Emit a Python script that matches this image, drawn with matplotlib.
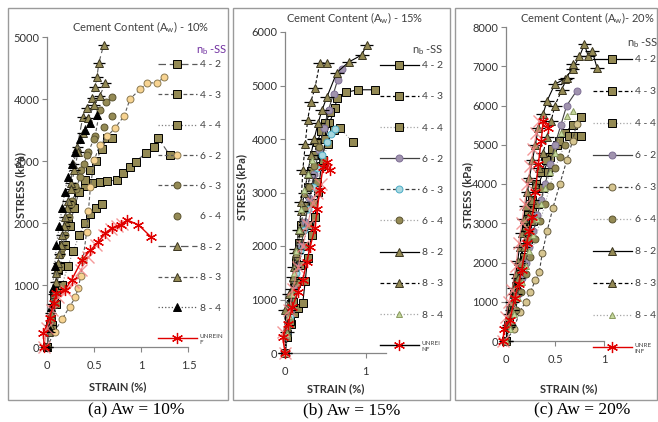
import matplotlib
matplotlib.use('Agg')
import matplotlib.pyplot as plt
from matplotlib.lines import Line2D
from matplotlib.patches import Rectangle

plt.rcParams['font.family'] = ['Lato', 'DejaVu Sans']

# ===== DATA (strain %, stress kPa) =====
series_labels = ['4 - 2', '4 - 3', '4 - 4', '6 - 2', '6 - 3', '6 - 4', '8 - 2', '8 - 3', '8 - 4']
unreinf_labels = ['UNREIN\nF', 'UNREI\nNF', 'UNRE\nINF']
panel_titles = ['Cement Content (A$_{\\mathregular{w}}$) - 10%',
                'Cement Content (A$_{\\mathregular{w}}$) - 15%',
                'Cement Content (A$_{\\mathregular{w}}$)- 20%']
captions = ['(a) Aw = 10%', '(b) Aw = 15%', '(c) Aw = 20%']

# --- (a) Aw = 10% ---
a42_x = [0, 0.03, 0.07, 0.12, 0.17, 0.22, 0.27, 0.33, 0.4, 0.48, 0.56, 0.64, 0.74, 0.81, 0.88, 0.94, 1.05, 1.13, 1.18, 1.3]
a42_y = [0, 350, 800, 1250, 1650, 2000, 2300, 2500, 2600, 2640, 2660, 2680, 2690, 2800, 2900, 2990, 3130, 3230, 3370, 3100]
a43_x = [0, 0.04, 0.09, 0.14, 0.19, 0.24, 0.29, 0.34, 0.4, 0.46, 0.52, 0.58, 0.64, 0.69]
a43_y = [0, 450, 900, 1300, 1650, 1950, 2250, 2500, 2700, 2850, 3000, 3200, 3370, 3370]
a44_x = [0, 0.05, 0.1, 0.16, 0.22, 0.28, 0.34, 0.4, 0.46, 0.52, 0.58]
a44_y = [0, 350, 700, 1000, 1300, 1550, 1800, 2000, 2150, 2250, 2300]
a62_x = [0, 0.08, 0.16, 0.24, 0.3, 0.33, 0.36, 0.38, 0.42, 0.44, 0.46, 0.5, 0.56, 0.64, 0.72, 0.82, 0.88, 0.99, 1.06, 1.17, 1.24]
a62_y = [0, 250, 450, 650, 800, 950, 1150, 1400, 1850, 2200, 2580, 3010, 3260, 3400, 3530, 3730, 4000, 4160, 4260, 4260, 4350]
a63_x = [0, 0.03, 0.07, 0.11, 0.15, 0.19, 0.23, 0.27, 0.31, 0.35, 0.39, 0.44, 0.51, 0.56, 0.63, 0.69]
a63_y = [0, 400, 800, 1200, 1500, 1800, 2100, 2350, 2550, 2750, 2950, 3150, 3400, 3820, 3950, 4030]
a64_x = [0, 0.04, 0.08, 0.12, 0.16, 0.2, 0.25, 0.3, 0.36, 0.42, 0.5, 0.6, 0.69]
a64_y = [0, 450, 850, 1250, 1600, 1950, 2300, 2600, 2850, 3100, 3350, 3550, 3730]
a82_x = [0, 0.02, 0.04, 0.07, 0.1, 0.13, 0.16, 0.19, 0.22, 0.25, 0.28, 0.32, 0.38, 0.42, 0.48, 0.51, 0.53, 0.55, 0.6]
a82_y = [0, 250, 550, 850, 1200, 1500, 1800, 2100, 2350, 2650, 2950, 3230, 3710, 3860, 4020, 4190, 4360, 4580, 4870]
a83_x = [0, 0.03, 0.06, 0.09, 0.12, 0.15, 0.18, 0.21, 0.25, 0.29, 0.33, 0.38, 0.44, 0.5, 0.56, 0.62]
a83_y = [0, 350, 700, 1050, 1350, 1650, 1950, 2250, 2550, 2850, 3150, 3450, 3700, 3900, 4050, 4260]
a84_x = [0, 0.02, 0.04, 0.06, 0.08, 0.1, 0.13, 0.16, 0.19, 0.22, 0.26, 0.3, 0.35, 0.4, 0.46, 0.53]
a84_y = [0, 300, 650, 950, 1300, 1650, 1950, 2250, 2500, 2740, 2950, 3150, 3350, 3500, 3620, 3740]
a_un_x = [-0.03, -0.04, 0.03, 0.07, 0.1, 0.19, 0.26, 0.37, 0.46, 0.54, 0.62, 0.69, 0.78, 0.85, 0.97, 1.1]
a_un_y = [0, 225, 470, 710, 870, 920, 1080, 1400, 1560, 1690, 1840, 1920, 1970, 2050, 1970, 1780]
a_un2_x = [-0.03, 0.0, 0.05, 0.12, 0.2, 0.28, 0.36, 0.44, 0.52, 0.6, 0.68, 0.74, 0.8]
a_un2_y = [0, 300, 600, 800, 900, 1050, 1250, 1450, 1650, 1800, 1900, 1950, 1980]

# --- (b) Aw = 15% ---
b42_x = [0, 0.03, 0.07, 0.11, 0.16, 0.22, 0.25, 0.28, 0.33, 0.37, 0.41, 0.45, 0.5, 0.55, 0.62, 0.64, 0.75, 0.9, 1.12]
b42_y = [0, 300, 550, 750, 850, 940, 1350, 1770, 2200, 2540, 3010, 3500, 4000, 4300, 4580, 4770, 4870, 4920, 4920]
b43_x = [0, 0.02, 0.05, 0.08, 0.11, 0.14, 0.17, 0.2, 0.24, 0.28, 0.32, 0.36, 0.4, 0.45, 0.5, 0.56]
b43_y = [0, 350, 700, 1000, 1350, 1700, 2050, 2400, 2750, 3100, 3400, 3700, 3950, 4150, 4300, 4500]
b44_x = [0, 0.03, 0.06, 0.1, 0.14, 0.18, 0.23, 0.28, 0.34, 0.4, 0.47, 0.53, 0.6, 0.68, 0.84]
b44_y = [0, 300, 600, 950, 1300, 1650, 2000, 2400, 2800, 3200, 3600, 3900, 4170, 4200, 3940]
b62_x = [0, 0.03, 0.07, 0.11, 0.15, 0.2, 0.25, 0.3, 0.36, 0.42, 0.48, 0.54, 0.6, 0.65, 0.7]
b62_y = [0, 400, 800, 1200, 1600, 2000, 2450, 2900, 3350, 3800, 4200, 4550, 4850, 5100, 5300]
b63_x = [0, 0.03, 0.06, 0.1, 0.14, 0.18, 0.23, 0.28, 0.34, 0.4, 0.46, 0.52, 0.57, 0.62]
b63_y = [0, 350, 700, 1100, 1500, 1900, 2300, 2700, 3100, 3450, 3700, 3950, 4100, 4180]
b64_x = [0, 0.03, 0.06, 0.1, 0.14, 0.19, 0.24, 0.3, 0.36, 0.42]
b64_y = [0, 450, 900, 1350, 1800, 2250, 2700, 3100, 3500, 3850]
b82_x = [0, 0.02, 0.05, 0.08, 0.11, 0.14, 0.17, 0.2, 0.24, 0.28, 0.32, 0.36, 0.41, 0.46, 0.52, 0.64, 0.79, 0.95, 1.01]
b82_y = [0, 400, 800, 1200, 1600, 1950, 2300, 2650, 3000, 3350, 3700, 4000, 4300, 4550, 4790, 5240, 5440, 5570, 5760]
b83_x = [0, 0.0, 0.05, 0.1, 0.14, 0.19, 0.2, 0.22, 0.25, 0.28, 0.32, 0.37, 0.43, 0.52]
b83_y = [0, 800, 1100, 1420, 1870, 2300, 2830, 3420, 3900, 4360, 4700, 4950, 5420, 5420]
b84_x = [0, 0.02, 0.05, 0.08, 0.11, 0.14, 0.17, 0.2, 0.24, 0.28, 0.33]
b84_y = [0, 350, 700, 1100, 1500, 1900, 2300, 2700, 3050, 3350, 3600]
b_un_x = [0, -0.03, 0.04, 0.09, 0.16, 0.22, 0.27, 0.31, 0.37, 0.4, 0.43, 0.47, 0.52, 0.56]
b_un_y = [0, 300, 550, 860, 1140, 1370, 1700, 1980, 2330, 2700, 3050, 3480, 3570, 3420]
b_un2_x = [0, -0.02, 0.05, 0.1, 0.16, 0.22, 0.28, 0.34, 0.4, 0.45]
b_un2_y = [0, 400, 800, 1200, 1600, 2000, 2400, 2800, 3000, 3150]

# --- (c) Aw = 20% ---
c42_x = [0, 0.03, 0.06, 0.1, 0.14, 0.18, 0.22, 0.27, 0.32, 0.38, 0.45, 0.52, 0.6, 0.68, 0.77]
c42_y = [0, 500, 900, 1400, 1900, 2400, 2900, 3400, 3900, 4300, 4700, 5000, 5300, 5500, 5710]
c43_x = [0, 0.02, 0.05, 0.08, 0.11, 0.14, 0.17, 0.2, 0.23, 0.27, 0.31, 0.36, 0.41, 0.47, 0.54, 0.64, 0.7, 0.77]
c43_y = [0, 400, 800, 1200, 1600, 2000, 2400, 2800, 3200, 3600, 4000, 4300, 4600, 4900, 5100, 5230, 5230, 5230]
c44_x = [0, 0.03, 0.06, 0.1, 0.14, 0.18, 0.23, 0.28, 0.33, 0.38, 0.43]
c44_y = [0, 400, 800, 1250, 1700, 2150, 2600, 3050, 3500, 3900, 4300]
c62_x = [0, 0.04, 0.08, 0.12, 0.16, 0.2, 0.24, 0.28, 0.32, 0.36, 0.4, 0.45, 0.5, 0.56, 0.62, 0.72]
c62_y = [0, 400, 800, 1200, 1600, 2000, 2400, 2800, 3200, 3600, 4000, 4500, 5000, 5500, 6000, 6370]
c63_x = [0, 0.08, 0.14, 0.2, 0.25, 0.3, 0.34, 0.37, 0.42, 0.48, 0.55, 0.62, 0.68, 0.72]
c63_y = [0, 300, 740, 1000, 1250, 1550, 1750, 2230, 2800, 3400, 4000, 4600, 5100, 5530]
c64_x = [0, 0.05, 0.1, 0.15, 0.2, 0.25, 0.3, 0.35, 0.4, 0.45, 0.5, 0.55, 0.6]
c64_y = [0, 400, 800, 1250, 1700, 2150, 2600, 3050, 3500, 3950, 4400, 4700, 5000]
c82_x = [0, 0.02, 0.04, 0.06, 0.08, 0.1, 0.12, 0.14, 0.16, 0.18, 0.2, 0.22, 0.24, 0.27, 0.3, 0.33, 0.38, 0.42, 0.5, 0.6, 0.68, 0.75, 0.8, 0.84, 0.88, 0.93]
c82_y = [0, 350, 700, 1000, 1350, 1700, 2050, 2400, 2750, 3100, 3450, 3800, 4150, 4600, 5000, 5430, 5790, 6120, 6550, 6670, 6930, 7250, 7560, 7250, 7390, 6950]
c83_x = [0, 0.03, 0.06, 0.09, 0.12, 0.15, 0.18, 0.21, 0.24, 0.27, 0.3, 0.34, 0.38, 0.42, 0.46, 0.5, 0.57, 0.62, 0.68]
c83_y = [0, 400, 800, 1200, 1600, 2000, 2400, 2800, 3200, 3600, 4000, 4400, 4800, 5200, 5600, 6000, 6400, 6700, 7050]
c84_x = [0, 0.04, 0.08, 0.12, 0.16, 0.2, 0.24, 0.28, 0.32, 0.36, 0.4, 0.45, 0.5, 0.56, 0.62, 0.68]
c84_y = [0, 300, 700, 1100, 1500, 1900, 2300, 2700, 3100, 3500, 3900, 4300, 4800, 5300, 5730, 5860]
c_un_x = [-0.03, -0.02, 0.04, 0.09, 0.13, 0.16, 0.21, 0.24, 0.27, 0.3, 0.33, 0.36, 0.38, 0.43]
c_un_y = [0, 300, 530, 1090, 1450, 1800, 2490, 2800, 3150, 3800, 4500, 5100, 5610, 5430]
c_un2_x = [-0.03, 0.0, 0.03, 0.06, 0.1, 0.13, 0.16, 0.19, 0.22, 0.25, 0.28, 0.31, 0.34]
c_un2_y = [0, 600, 1000, 1300, 1900, 2500, 3000, 3500, 4000, 4450, 4900, 5300, 5600]

panels = [
    [(a42_x, a42_y), (a43_x, a43_y), (a44_x, a44_y), (a62_x, a62_y), (a63_x, a63_y),
     (a64_x, a64_y), (a82_x, a82_y), (a83_x, a83_y), (a84_x, a84_y),
     (a_un_x, a_un_y), (a_un2_x, a_un2_y)],
    [(b42_x, b42_y), (b43_x, b43_y), (b44_x, b44_y), (b62_x, b62_y), (b63_x, b63_y),
     (b64_x, b64_y), (b82_x, b82_y), (b83_x, b83_y), (b84_x, b84_y),
     (b_un_x, b_un_y), (b_un2_x, b_un2_y)],
    [(c42_x, c42_y), (c43_x, c43_y), (c44_x, c44_y), (c62_x, c62_y), (c63_x, c63_y),
     (c64_x, c64_y), (c82_x, c82_y), (c83_x, c83_y), (c84_x, c84_y),
     (c_un_x, c_un_y), (c_un2_x, c_un2_y)],
]

# ===== STYLES =====
OLIVE = '#948A54'
TAN = '#F7D391'
KHAKI = '#D6C590'
PURPLE = '#A093AE'
TEAL = '#A8D8E0'
LGREEN = '#C4D79B'
RED = '#E00000'
LRED = '#F28080'
GREY = '#404040'
LGREY = '#A6A6A6'

# (marker, face, edge, linestyle, linecolor, ms)
styles_a = [
    ('s', OLIVE, 'black', (0, (6, 3)), '#595959', 5.2),
    ('s', OLIVE, 'black', (0, (3, 2)), '#595959', 5.2),
    ('s', OLIVE, 'black', ':', '#7f7f7f', 5.2),
    ('o', TAN, '#8c7a50', (0, (3, 2)), '#595959', 5.0),
    ('o', OLIVE, '#5a5330', (0, (3, 2)), '#595959', 5.0),
    ('o', OLIVE, '#5a5330', 'none', '#595959', 5.0),
    ('^', OLIVE, '#3a3520', (0, (6, 3)), '#595959', 6.0),
    ('^', OLIVE, '#3a3520', (0, (3, 2)), '#595959', 6.0),
    ('^', 'black', 'black', ':', '#595959', 5.5),
]
styles_bc = [
    ('s', OLIVE, 'black', '-', 'black', 5.2),
    ('s', OLIVE, 'black', (0, (3, 2)), 'black', 5.2),
    ('s', OLIVE, 'black', ':', LGREY, 5.2),
    ('o', PURPLE, '#7F6F96', '-', '#404040', 5.0),
    ('o', TEAL, '#4BACC6', (0, (3, 2)), '#404040', 5.0),
    ('o', OLIVE, '#5a5330', ':', LGREY, 5.0),
    ('^', OLIVE, '#3a3520', '-', 'black', 6.0),
    ('^', OLIVE, '#3a3520', (0, (3, 2)), 'black', 6.0),
    ('^', LGREEN, '#8a9a60', ':', LGREY, 4.5),
]
styles_c = list(styles_bc)
styles_c[4] = ('o', KHAKI, '#6b6040', (0, (3, 2)), '#404040', 5.0)
panel_styles = [styles_a, styles_bc, styles_c]
unreinf_line = ['#E00000', 'black', '#E00000']
xerr_size = [0.06, 0.085, 0.07]

ASTER = (6, 2, 0)

# ===== LAYOUT (pixels on a 658x422 canvas) =====
W, H = 658, 422
axes_px = [(37.6, 37, 188.4, 347), (281, 32, 386, 353), (501, 27, 604, 341)]
xlims = [(-0.1, 1.5), (-0.05, 1.25), (-0.05, 1.0)]
ylims = [(0, 5000), (0, 6000), (0, 8000)]
xticks = [[0, 0.5, 1, 1.5], [0, 1], [0, 0.5, 1]]
frames = [(8, 8, 228, 400), (233, 8, 450, 400), (455, 8, 657, 400)]
title_pos = [(141, 27), (355, 18), (587, 18)]
nb_pos = [(212, 50), (428, 50), (643, 43)]
nb_color = ['#7030A0', GREY, GREY]
legend_pos = [(158, 60), (380, 61), (593, 55)]
legend_spacing = [2.03, 2.1, 2.18]
ylabel_pos = [(21, 185), (242, 187), (468, 195)]
xlabel_pos = [(118, 387), (336, 389), (569, 389)]
caption_pos = [(136, 410), (352, 410), (582, 410)]

fig = plt.figure(figsize=(W / 100, H / 100), dpi=100)

for i in range(3):
    x0, y0, x1, y1 = frames[i]
    fig.patches.append(Rectangle((x0 / W, 1 - y1 / H), (x1 - x0) / W, (y1 - y0) / H,
                                 transform=fig.transFigure, fill=False,
                                 edgecolor='#9a9a9a', linewidth=1.0))

    l, t, r, b = axes_px[i]
    ax = fig.add_axes([l / W, 1 - b / H, (r - l) / W, (b - t) / H])
    ax.set_facecolor('none')

    handles = []
    for k, (xs, ys) in enumerate(panels[i][:9]):
        mk, fc, ec, ls, lc, ms = panel_styles[i][k]
        if k in (6, 7):
            ax.errorbar(xs, ys, xerr=xerr_size[i], fmt='none', ecolor='black',
                        elinewidth=0.9, capsize=0, zorder=3, clip_on=False)
        ax.plot(xs, ys, linestyle=ls, color=lc, linewidth=0.8, marker=mk,
                markerfacecolor=fc, markeredgecolor=ec, markeredgewidth=0.7,
                markersize=ms, clip_on=False, zorder=3)
        handles.append(Line2D([], [], linestyle=ls, color=lc, linewidth=0.9, marker=mk,
                              markerfacecolor=fc, markeredgecolor=ec,
                              markeredgewidth=0.7, markersize=ms))

    # unreinforced specimens
    xs, ys = panels[i][10]
    ax.plot(xs, ys, color=LRED, linewidth=0.8, marker='x', markersize=9,
            markeredgewidth=1.0, clip_on=False, zorder=4, alpha=0.8)
    xs, ys = panels[i][9]
    ax.plot(xs, ys, color=RED, linewidth=1.0, marker=ASTER, markersize=8,
            markeredgecolor=RED, markeredgewidth=0.9, clip_on=False, zorder=5)
    handles.append(Line2D([], [], color=unreinf_line[i], linewidth=1.0, marker=ASTER,
                          markersize=8, markeredgecolor=RED, markeredgewidth=0.9))

    ax.set_xlim(*xlims[i])
    ax.set_ylim(*ylims[i])
    ax.set_xticks(xticks[i])
    ax.set_xticklabels([('%g' % v) for v in xticks[i]])
    ax.set_yticks(range(0, ylims[i][1] + 1, 1000))
    for s in ['top', 'right']:
        ax.spines[s].set_visible(False)
    ax.spines['left'].set_position(('data', 0))
    for s in ['left', 'bottom']:
        ax.spines[s].set_color('#868686')
        ax.spines[s].set_linewidth(0.9)
    ax.tick_params(direction='out', length=3.5, width=0.8, color='#868686',
                   labelsize=8, labelcolor='#333333', pad=2)
    ax.tick_params(axis='x', pad=6)

    fig.text(title_pos[i][0] / W, 1 - title_pos[i][1] / H, panel_titles[i],
             ha='center', va='center', fontsize=8, color=GREY)
    fig.text(nb_pos[i][0] / W, 1 - nb_pos[i][1] / H, 'n$_{\\mathregular{b}}$ -SS',
             ha='center', va='center', fontsize=8, color=nb_color[i])
    fig.text(ylabel_pos[i][0] / W, 1 - ylabel_pos[i][1] / H, 'STRESS (kPa)',
             rotation=90, ha='center', va='center', fontsize=8, fontweight='bold',
             color='#333333')
    fig.text(xlabel_pos[i][0] / W, 1 - xlabel_pos[i][1] / H, 'STRAIN (%)',
             ha='center', va='center', fontsize=8, fontweight='bold', color='#333333')
    fig.text(caption_pos[i][0] / W, 1 - caption_pos[i][1] / H, captions[i],
             ha='center', va='center', fontsize=12.5, family='Liberation Serif',
             color='black')

    labels = series_labels + [unreinf_labels[i]]
    leg = fig.legend(handles, labels, loc='upper left',
                     bbox_to_anchor=(legend_pos[i][0] / W, 1 - legend_pos[i][1] / H),
                     frameon=False, fontsize=7.5, handlelength=3.7, handletextpad=0.3,
                     labelspacing=legend_spacing[i], borderpad=0, borderaxespad=0)
    for txt in leg.get_texts():
        txt.set_color(GREY)
    leg.get_texts()[-1].set_fontsize(4.5)

fig.savefig('out.png', dpi=100)
